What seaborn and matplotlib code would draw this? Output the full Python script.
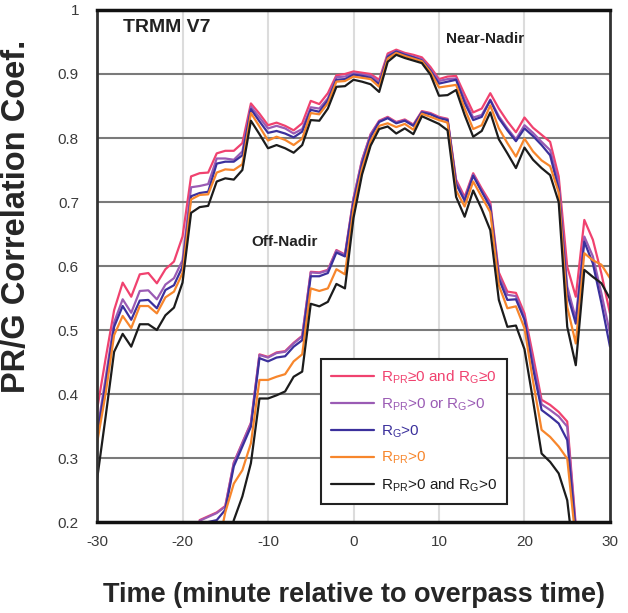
# TRMM V7 PR/gauge correlation vs. time offset
import numpy as np
import pandas as pd
import matplotlib
matplotlib.use('Agg')
import matplotlib.pyplot as plt
import seaborn as sns

sns.set_style('white')
plt.rcParams['font.family'] = ['Liberation Sans', 'DejaVu Sans']
plt.rcParams['mathtext.default'] = 'regular'

nan = np.nan
times = list(range(-30, 31))

# near-nadir curves (t = -30 ... 30)
near_all = [0.375, 0.455, 0.531, 0.574, 0.552, 0.587, 0.589, 0.573, 0.595, 0.607,
            0.646, 0.740, 0.745, 0.746, 0.776, 0.780, 0.780, 0.792, 0.854, 0.838,
            0.820, 0.824, 0.819, 0.812, 0.823, 0.858, 0.853, 0.870, 0.898, 0.900,
            0.904, 0.902, 0.900, 0.891, 0.932, 0.938, 0.933, 0.930, 0.926, 0.911,
            0.892, 0.896, 0.897, 0.868, 0.840, 0.846, 0.870, 0.846, 0.826, 0.809,
            0.832, 0.816, 0.805, 0.794, 0.740, 0.599, 0.552, 0.672, 0.641, 0.588,
            0.526]
near_or = [0.340, 0.425, 0.512, 0.548, 0.527, 0.561, 0.562, 0.548, 0.571, 0.581,
           0.609, 0.723, 0.725, 0.728, 0.768, 0.768, 0.766, 0.779, 0.849, 0.832,
           0.815, 0.819, 0.815, 0.807, 0.814, 0.848, 0.846, 0.862, 0.895, 0.896,
           0.901, 0.899, 0.897, 0.887, 0.929, 0.936, 0.931, 0.927, 0.923, 0.907,
           0.889, 0.892, 0.893, 0.860, 0.832, 0.836, 0.860, 0.834, 0.815, 0.798,
           0.820, 0.808, 0.794, 0.781, 0.730, 0.568, 0.518, 0.646, 0.615, 0.557,
           0.495]
near_g = [0.335, 0.415, 0.505, 0.5375, 0.516, 0.546, 0.547, 0.534, 0.5625, 0.570,
          0.599, 0.709, 0.714, 0.716, 0.760, 0.763, 0.763, 0.773, 0.845, 0.826,
          0.808, 0.811, 0.807, 0.801, 0.810, 0.844, 0.841, 0.859, 0.891, 0.892,
          0.899, 0.897, 0.894, 0.884, 0.927, 0.935, 0.930, 0.926, 0.921, 0.905,
          0.885, 0.888, 0.891, 0.855, 0.828, 0.833, 0.859, 0.831, 0.812, 0.795,
          0.815, 0.803, 0.789, 0.773, 0.720, 0.557, 0.510, 0.638, 0.604, 0.542,
          0.474]
near_pr = [0.323, 0.400, 0.492, 0.522, 0.503, 0.5375, 0.5375, 0.526, 0.551, 0.560,
           0.589, 0.704, 0.711, 0.712, 0.746, 0.751, 0.750, 0.759, 0.839, 0.818,
           0.796, 0.802, 0.797, 0.789, 0.799, 0.839, 0.837, 0.854, 0.888, 0.889,
           0.896, 0.894, 0.892, 0.880, 0.924, 0.933, 0.928, 0.924, 0.920, 0.903,
           0.879, 0.881, 0.883, 0.846, 0.814, 0.820, 0.851, 0.815, 0.792, 0.771,
           0.799, 0.779, 0.765, 0.756, 0.715, 0.536, 0.479, 0.620, 0.609, 0.602,
           0.581]
near_and = [0.266, 0.364, 0.466, 0.494, 0.474, 0.509, 0.509, 0.500, 0.523, 0.535,
            0.574, 0.683, 0.692, 0.694, 0.732, 0.737, 0.735, 0.750, 0.827, 0.806,
            0.784, 0.789, 0.784, 0.777, 0.789, 0.828, 0.827, 0.846, 0.880, 0.881,
            0.891, 0.888, 0.884, 0.872, 0.919, 0.930, 0.925, 0.921, 0.917, 0.899,
            0.866, 0.867, 0.875, 0.836, 0.802, 0.811, 0.840, 0.798, 0.776, 0.753,
            0.785, 0.766, 0.753, 0.742, 0.700, 0.505, 0.445, 0.594, 0.583, 0.573,
            0.549]

# off-nadir curves (t = -30 ... 30), nan = not shown
off_all = [nan] * 12 + [
    0.203, 0.209, 0.215, 0.225, 0.293, 0.324, 0.355, 0.462, 0.458, 0.465,
    0.467, 0.480, 0.491, 0.591, 0.590, 0.594, 0.625, 0.618, 0.706, 0.766,
    0.806, 0.827, 0.833, 0.825, 0.829, 0.821, 0.842, 0.839, 0.833, 0.830,
    0.735, 0.708, 0.745, 0.721, 0.699, 0.590, 0.560, 0.558, 0.526, 0.460,
    0.391, 0.383, 0.372, 0.357, 0.195] + [nan] * 4
off_or = [nan] * 12 + [
    0.202, 0.208, 0.214, 0.224, 0.292, 0.323, 0.354, 0.461, 0.457, 0.464,
    0.466, 0.479, 0.490, 0.590, 0.589, 0.593, 0.624, 0.617, 0.705, 0.765,
    0.805, 0.826, 0.832, 0.824, 0.828, 0.820, 0.841, 0.838, 0.832, 0.829,
    0.732, 0.705, 0.743, 0.718, 0.695, 0.585, 0.555, 0.553, 0.520, 0.450,
    0.384, 0.375, 0.365, 0.349, 0.190] + [nan] * 4
off_g = [nan] * 13 + [
    0.200, 0.203, 0.219, 0.287, 0.318, 0.349, 0.456, 0.451, 0.457,
    0.459, 0.474, 0.484, 0.584, 0.584, 0.589, 0.621, 0.615, 0.700, 0.760,
    0.802, 0.825, 0.831, 0.823, 0.827, 0.819, 0.840, 0.837, 0.831, 0.828,
    0.728, 0.702, 0.741, 0.716, 0.692, 0.580, 0.547, 0.548, 0.516, 0.440,
    0.375, 0.365, 0.354, 0.328, 0.185] + [nan] * 4
off_pr = [nan] * 14 + [
    0.150, 0.215, 0.260, 0.281, 0.323, 0.422, 0.422, 0.427,
    0.431, 0.451, 0.462, 0.565, 0.561, 0.565, 0.595, 0.587, 0.690, 0.752,
    0.795, 0.819, 0.823, 0.817, 0.822, 0.813, 0.838, 0.833, 0.828, 0.824,
    0.718, 0.693, 0.732, 0.708, 0.684, 0.570, 0.534, 0.537, 0.503, 0.420,
    0.344, 0.333, 0.318, 0.299, 0.170] + [nan] * 4
off_and = [nan] * 15 + [
    0.150, 0.203, 0.240, 0.292, 0.393, 0.393, 0.398,
    0.404, 0.427, 0.435, 0.541, 0.537, 0.544, 0.572, 0.565, 0.675, 0.743,
    0.788, 0.814, 0.818, 0.807, 0.815, 0.806, 0.834, 0.828, 0.822, 0.812,
    0.708, 0.677, 0.718, 0.689, 0.656, 0.547, 0.505, 0.507, 0.470, 0.390,
    0.307, 0.294, 0.276, 0.234, 0.120] + [nan] * 4

labels = [r'R$_{PR}$≥0 and R$_{G}$≥0',
          r'R$_{PR}$>0 or R$_{G}$>0',
          r'R$_{G}$>0',
          r'R$_{PR}$>0',
          r'R$_{PR}$>0 and R$_{G}$>0']
colors = ['#f0426f', '#9a5bb4', '#3b309c', '#f7862c', '#1c1c1c']

near = [near_all, near_or, near_g, near_pr, near_and]
off = [off_all, off_or, off_g, off_pr, off_and]

rows = []
for lab, n, o in zip(labels, near, off):
    for t, v in zip(times, n):
        rows.append((t, v, lab, 'near'))
    for t, v in zip(times, o):
        rows.append((t, v, lab, 'off'))
df = pd.DataFrame(rows, columns=['time', 'corr', 'subset', 'view'])
df = df.dropna()

fig = plt.figure(figsize=(6.28, 6.13), dpi=100)
ax = fig.add_axes([0.1545, 0.1484, 0.8168, 0.8353])

# grid
for x in [-20, -10, 0, 10, 20]:
    ax.axvline(x, color='#dcdcdc', lw=1.5, zorder=0)
for y in np.arange(0.3, 1.0, 0.1):
    ax.axhline(y, color='#7a7a7a', lw=1.5, zorder=0)

sns.lineplot(data=df, x='time', y='corr', hue='subset', units='view',
             estimator=None, hue_order=labels, palette=colors, lw=1.6,
             sort=True, ax=ax)

ax.set_xlim(-30, 30)
ax.set_ylim(0.2, 1.0)
ax.set_xticks([-30, -20, -10, 0, 10, 20, 30])
ax.set_xticklabels(['-30', '-20', '-10', '0', '10', '20', '30'])
ax.set_yticks([0.2, 0.3, 0.4, 0.5, 0.6, 0.7, 0.8, 0.9, 1.0])
ax.set_yticklabels(['0.2', '0.3', '0.4', '0.5', '0.6', '0.7', '0.8', '0.9', '1'])
ax.tick_params(axis='y', direction='out', length=9, width=1.5, color='#333333',
               labelsize=11, labelcolor='#3a3a3a', pad=4)
ax.tick_params(axis='x', length=0, labelsize=11, labelcolor='#3a3a3a', pad=9)

for s in ['top', 'bottom']:
    ax.spines[s].set_linewidth(2.5)
    ax.spines[s].set_color('#111111')
for s in ['left', 'right']:
    ax.spines[s].set_linewidth(2)
    ax.spines[s].set_color('#333333')

ax.set_xlabel('Time (minute relative to overpass time)', fontsize=19.5,
              fontweight='bold', labelpad=24)
ax.set_ylabel('PR/G Correlation Coef.', fontsize=23.5, fontweight='bold')
ax.yaxis.set_label_coords(-0.126, 0.596)

ax.text(-27.0, 0.972, 'TRMM V7', fontsize=14, fontweight='bold', va='center',
        color='#222222')
ax.text(10.8, 0.954, 'Near-Nadir', fontsize=11, fontweight='bold', va='center',
        color='#222222')
ax.text(-11.9, 0.637, 'Off-Nadir', fontsize=11, fontweight='bold', va='center',
        color='#222222')

leg = ax.legend(loc='lower right', bbox_to_anchor=(0.815, 0.02), frameon=True,
                fancybox=False, fontsize=11, labelcolor='linecolor',
                handlelength=2.8, borderpad=0.65, labelspacing=0.68,
                handletextpad=0.5)
leg.get_frame().set_edgecolor('#222222')
leg.get_frame().set_linewidth(1.5)
leg.get_frame().set_alpha(1)

fig.savefig('out.png', dpi=100)
